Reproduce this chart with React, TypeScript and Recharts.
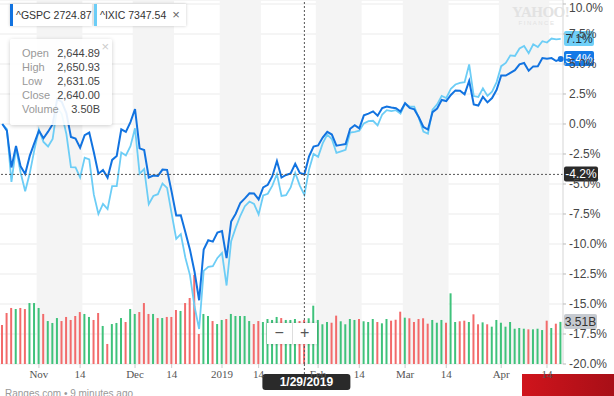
import {
  ComposedChart,
  Line,
  Bar,
  Cell,
  XAxis,
  YAxis,
  CartesianGrid,
  ReferenceArea,
  ReferenceLine,
  ReferenceDot,
} from "recharts";

// trading days on the chart, by month: [month, year, days]
const tradingDays: [number, number, number[]][] = [
  [10, 2018, [22, 23, 24, 25, 26, 29, 30, 31]],
  [11, 2018, [1, 2, 5, 6, 7, 8, 9, 12, 13, 14, 15, 16, 19, 20, 21, 23, 26, 27, 28, 29, 30]],
  [12, 2018, [3, 4, 6, 7, 10, 11, 12, 13, 14, 17, 18, 19, 20, 21, 24, 26, 27, 28, 31]],
  [1, 2019, [2, 3, 4, 7, 8, 9, 10, 11, 14, 15, 16, 17, 18, 22, 23, 24, 25, 28, 29, 30, 31]],
  [2, 2019, [1, 4, 5, 6, 7, 8, 11, 12, 13, 14, 15, 19, 20, 21, 22, 25, 26, 27, 28]],
  [3, 2019, [1, 4, 5, 6, 7, 8, 11, 12, 13, 14, 15, 18, 19, 20, 21, 22, 25, 26, 27, 28, 29]],
  [4, 2019, [1, 2, 3, 4, 5, 8, 9, 10, 11, 12, 15, 16, 17, 18]],
];

// % change, ^GSPC
const gspc = [
  0.0, -0.55, -3.62, -1.83, -3.53, -4.16, -2.66, -1.6,
  -0.56, -1.19, -0.64, -0.02, 2.1, 1.85, 0.91, -1.08, -1.22, -1.97, -0.93, -0.71, -2.36, -4.14, -3.84, -4.47, -2.99, -2.67, -0.44, -0.66, 0.16,
  1.25, -2.03, -2.17, -4.46, -4.29, -4.32, -3.8, -3.82, -5.66, -7.62, -7.61, -9.03, -10.47, -12.31, -14.69, -10.46, -9.69, -9.8, -9.04,
  -8.92, -11.18, -8.13, -7.48, -6.58, -6.2, -5.78, -5.79, -6.29, -5.28, -5.07, -4.35, -3.09, -4.46, -4.25, -4.12, -3.31, -4.07, -4.2, -2.72, -1.88,
  -1.79, -1.13, -0.66, -0.88, -1.81, -1.74, -1.67, -0.4, -0.1, -0.37, 0.72, 0.87, 1.05, 0.69, 1.33, 1.46, 1.38, 1.32, 1.04,
  1.73, 1.34, 1.23, 0.56, -0.25, -0.46, 0.99, 1.29, 2.0, 1.91, 2.42, 2.8, 2.78, 2.48, 3.59, 1.63, 1.54, 2.27, 1.8, 2.16, 2.85,
  4.04, 4.04, 4.26, 4.48, 4.97, 5.08, 4.44, 4.8, 4.81, 5.5, 5.43, 5.49, 5.25, 5.41,
];

// % change, ^IXIC
const ixic = [
  0.0, -0.42, -4.82, -2.01, -4.04, -5.6, -4.11, -2.18,
  -0.46, -1.49, -1.87, -1.24, 1.37, 0.83, -0.83, -3.59, -3.62, -4.45, -2.81, -2.96, -5.89, -7.5, -6.65, -7.09, -5.18, -5.17, -2.37, -2.62, -1.85,
  -0.36, -4.15, -3.75, -6.69, -6.0, -5.85, -4.96, -5.33, -7.47, -9.57, -9.17, -11.14, -12.59, -15.21, -17.08, -12.24, -11.9, -11.84, -11.16,
  -10.75, -13.46, -9.77, -8.64, -7.65, -6.85, -6.46, -6.66, -7.53, -5.96, -5.81, -5.14, -4.17, -6.0, -5.93, -5.29, -4.07, -5.13, -5.9, -3.82, -2.5,
  -2.74, -1.62, -0.89, -1.25, -2.41, -2.28, -2.15, -0.72, -0.65, -0.56, 0.05, 0.24, 0.27, -0.12, 0.79, 1.15, 1.08, 1.15, 0.86,
  1.7, 1.46, 1.44, 0.5, -0.63, -0.81, 1.2, 1.64, 2.34, 2.17, 2.94, 3.29, 3.42, 3.49, 4.96, 2.33, 2.26, 2.98, 2.34, 2.69, 3.49,
  4.82, 5.09, 5.72, 5.67, 6.29, 6.5, 5.9, 6.64, 6.41, 6.9, 6.79, 7.12, 7.06, 7.09,
];

// volume, billions
const volume = [
  3.25, 4.25, 4.67, 4.58, 4.67, 4.58, 5.08, 5.08,
  4.67, 4.17, 3.58, 3.42, 3.83, 3.58, 3.92, 3.67, 4.0, 4.33, 4.17, 3.92, 3.67, 4.25, 3.17, 1.67, 3.33, 3.42, 3.83, 3.5, 4.58,
  4.17, 4.33, 5.08, 4.17, 4.17, 3.83, 3.83, 3.92, 3.92, 4.5, 4.42, 5.08, 5.5, 7.42, 2.5, 4.17, 4.0, 3.58, 3.33,
  3.67, 3.75, 4.17, 4.0, 4.0, 4.0, 3.58, 3.33, 3.58, 3.5, 3.75, 3.67, 3.92, 3.83, 3.67, 3.67, 3.75, 3.58, 3.67, 3.81, 4.86,
  3.67, 3.31, 3.5, 3.44, 4.03, 3.56, 3.31, 3.75, 3.67, 3.75, 3.56, 3.5, 3.75, 3.5, 3.39, 3.75, 3.61, 3.69, 4.36,
  3.86, 3.81, 3.5, 3.75, 3.81, 3.36, 3.67, 3.44, 3.67, 3.44, 5.89, 3.5, 3.56, 3.61, 3.5, 4.14, 3.31, 3.47, 3.31, 3.11, 3.67,
  3.44, 3.11, 3.5, 2.94, 3.0, 2.94, 2.89, 2.89, 2.94, 2.83, 3.61, 3.0, 3.36, 3.51,
];

const tickLabels: Record<string, string> = {
  "11/1/2018": "Nov", "11/14/2018": "14",
  "12/3/2018": "Dec", "12/14/2018": "14",
  "1/2/2019": "2019", "1/14/2019": "14",
  "2/1/2019": "Feb", "2/14/2019": "14",
  "3/1/2019": "Mar", "3/14/2019": "14",
  "4/1/2019": "Apr", "4/15/2019": "14",
};

// shaded first half of each month
const shaded = [
  ["11/1/2018", "11/14/2018"],
  ["12/3/2018", "12/14/2018"],
  ["1/2/2019", "1/14/2019"],
  ["2/1/2019", "2/14/2019"],
  ["3/1/2019", "3/14/2019"],
  ["4/1/2019", "4/15/2019"],
];

const pctTicks = [-20, -17.5, -15, -12.5, -10, -7.5, -5, -2.5, 0, 2.5, 5, 7.5, 10];

const CROSS_DATE = "1/29/2019";

const tooltipRows = [
  ["Open", "2,644.89"],
  ["High", "2,650.93"],
  ["Low", "2,631.05"],
  ["Close", "2,640.00"],
  ["Volume", "3.50B"],
];

const DARK = "#1273e0";
const LIGHT = "#6ccdf6";
const UP = "#3fc27b";
const DOWN = "#f26b6b";
const SANS = "'Liberation Sans', Arial, Helvetica, sans-serif";

const dates = tradingDays.flatMap(([m, y, days]) => days.map((d) => `${m}/${d}/${y}`));
const rows = dates.map((date, i) => ({ date, gspc: gspc[i], ixic: ixic[i], vol: volume[i] }));
const last = rows[rows.length - 1];
const crossValue = rows.find((r) => r.date === CROSS_DATE)!.gspc;

const badge = (text: string, fill: string, color: string, w: number) => (props: any) => {
  const vb = props.viewBox;
  const x = vb.x + vb.width + 1;
  const y = vb.y;
  return (
    <g>
      <rect x={x} y={y - 8} width={w} height={15} rx={2} fill={fill} />
      <text x={x + w / 2} y={y + 4} textAnchor="middle" fontSize={12} fill={color} fontFamily={SANS}>
        {text}
      </text>
    </g>
  );
};

const dateBadge = (props: any) => {
  const vb = props.viewBox;
  const cx = vb.x;
  const bottom = vb.y + vb.height;
  return (
    <g>
      <line x1={cx} x2={cx} y1={bottom} y2={bottom + 10} stroke="#555" strokeDasharray="2 2" />
      <rect x={cx - 42} y={bottom + 10} width={88} height={16} rx={3} fill="#2a2a2a" />
      <text x={cx + 2} y={bottom + 22} textAnchor="middle" fill="#fff" fontSize={12} fontWeight={600} fontFamily={SANS}>
        {CROSS_DATE}
      </text>
    </g>
  );
};

const chip = (left: number, width: number, color: string, text: string, close?: boolean) => (
  <div
    style={{
      position: "absolute", left, top: 4, width, height: 22, boxSizing: "border-box",
      background: "#fff", boxShadow: "0 0 3px rgba(0,0,0,0.2)", borderLeft: `3px solid ${color}`,
      font: `10.5px ${SANS}`, color: "#333", lineHeight: "22px", paddingLeft: 3, whiteSpace: "nowrap",
    }}
  >
    {text}
    {close && <span style={{ color: "#666", marginLeft: 6, fontSize: 13 }}>×</span>}
  </div>
);

export default function App() {
  return (
    <div style={{ position: "absolute", left: 0, top: 0, width: 614, height: 396, overflow: "hidden", background: "#fff" }}>
      <div
        style={{
          position: "absolute", left: 522, top: 374, width: 92, height: 22,
          background: "linear-gradient(90deg, #d0141c, #a80f17)",
        }}
      />
      <div style={{ position: "absolute", left: 0, top: 0 }}>
        <ComposedChart width={614} height={396} data={rows} margin={{ top: 0, right: 0, bottom: 0, left: 0 }} style={{ fontFamily: SANS }}>
          {shaded.map(([a, b]) => (
            <ReferenceArea key={a} x1={a} x2={b} fill="#f4f4f4" fillOpacity={1} stroke="none" />
          ))}
          <CartesianGrid vertical={false} stroke="#ebebeb" />
          <XAxis
            dataKey="date"
            ticks={Object.keys(tickLabels)}
            interval={0}
            tickFormatter={(d) => tickLabels[d] ?? ""}
            height={32}
            axisLine={false}
            tickLine={{ stroke: "#ccc" }}
            tickSize={4}
            tick={{ fontSize: 11, fill: "#555", fontFamily: "'Liberation Serif', 'Times New Roman', serif" }}
          />
          <YAxis
            orientation="right"
            width={51}
            domain={[-20, 10.333]}
            allowDataOverflow
            ticks={pctTicks}
            tickFormatter={(v) => `${Number(v).toFixed(1)}%`}
            axisLine={{ stroke: "#d5d5d5" }}
            tickLine={{ stroke: "#bbb" }}
            tickSize={3}
            tickMargin={3}
            tick={{ fontSize: 12, fill: "#464646", fontFamily: SANS }}
          />
          <YAxis yAxisId="vol" hide domain={[0, 30.333]} allowDataOverflow />
          <Bar yAxisId="vol" dataKey="vol" barSize={2} isAnimationActive={false}>
            {rows.map((r, i) => (
              <Cell key={i} fill={i > 0 && r.gspc >= rows[i - 1].gspc ? UP : DOWN} />
            ))}
          </Bar>
          <Line dataKey="ixic" stroke={LIGHT} strokeWidth={1.8} dot={false} activeDot={false} isAnimationActive={false} />
          <Line dataKey="gspc" stroke={DARK} strokeWidth={2} dot={false} activeDot={false} isAnimationActive={false} />
          <ReferenceDot x={last.date} y={last.gspc} r={3} fill={DARK} stroke="none" />
          <ReferenceLine y={crossValue} stroke="#555" strokeDasharray="2 2" label={badge(`${crossValue.toFixed(1)}%`, "#2a2a2a", "#fff", 34)} />
          <ReferenceLine x={CROSS_DATE} stroke="#555" strokeDasharray="2 2" label={dateBadge} />
          <ReferenceLine y={last.ixic} stroke="none" label={badge(`${last.ixic.toFixed(1)}%`, "#70d0f8", "#1d2f40", 30)} />
          <ReferenceLine y={last.gspc} stroke="none" label={badge(`${last.gspc.toFixed(1)}%`, "#1479e6", "#fff", 30)} />
          <ReferenceLine yAxisId="vol" y={last.vol} stroke="none" label={badge(`${last.vol.toFixed(2)}B`, "#c6cad0", "#333", 33)} />
        </ComposedChart>
      </div>

      <div style={{ position: "absolute", left: 512, top: 5, color: "#e2e2e2", pointerEvents: "none", textAlign: "center", width: 50 }}>
        <div style={{ font: "bold 15px 'Liberation Serif', serif", letterSpacing: -0.5, lineHeight: "15px" }}>YAHOO!</div>
        <div style={{ font: `6px ${SANS}`, letterSpacing: 1.5, lineHeight: "7px" }}>FINANCE</div>
      </div>

      {chip(10, 82, DARK, "^GSPC 2724.87")}
      {chip(94, 92, LIGHT, "^IXIC 7347.54", true)}

      <div
        style={{
          position: "absolute", left: 10, top: 39, width: 102, height: 86, boxSizing: "border-box",
          background: "rgba(255,255,255,0.9)", boxShadow: "0 1px 4px rgba(0,0,0,0.2)", borderRadius: 2,
          padding: "7px 12px 0 12px", font: `11px ${SANS}`,
        }}
      >
        <span style={{ position: "absolute", right: 3, top: 0, color: "#ccc", fontSize: 13 }}>×</span>
        {tooltipRows.map(([k, v]) => (
          <div key={k} style={{ display: "flex", justifyContent: "space-between", lineHeight: "14px" }}>
            <span style={{ color: "#999" }}>{k}</span>
            <span style={{ color: "#444" }}>{v}</span>
          </div>
        ))}
      </div>

      <div
        style={{
          position: "absolute", left: 267, top: 323, width: 50, height: 21, display: "flex",
          background: "#fff", boxShadow: "0 0 3px rgba(0,0,0,0.2)", font: `16px ${SANS}`, color: "#555",
        }}
      >
        <div style={{ flex: 1, textAlign: "center", lineHeight: "20px", borderRight: "1px solid #ddd" }}>−</div>
        <div style={{ flex: 1, textAlign: "center", lineHeight: "20px" }}>+</div>
      </div>

      <div style={{ position: "absolute", left: 5, top: 388, font: `10px ${SANS}`, color: "#999" }}>
        Ranges.com • 9 minutes ago
      </div>
    </div>
  );
}
